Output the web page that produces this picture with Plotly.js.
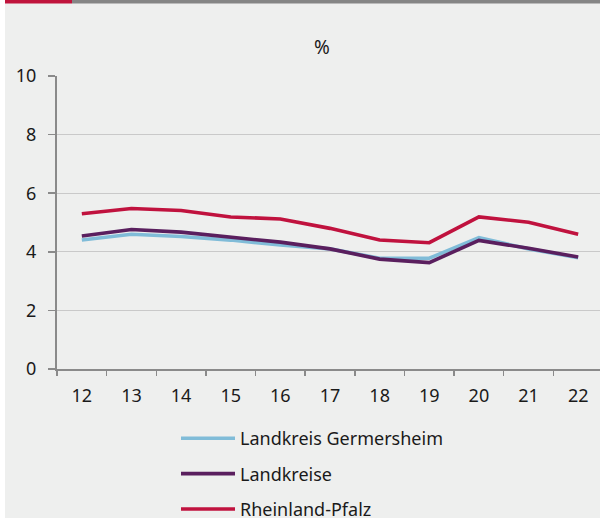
<!DOCTYPE html>
<html>
<head>
<meta charset="utf-8">
<script src="https://cdn.plot.ly/plotly-3.0.1.min.js"></script>
<style>
html,body{margin:0;padding:0;background:#ffffff;overflow:hidden;width:600px;height:518px;}
#chart{position:absolute;left:0;top:0;width:603px;height:518px;}
</style>
</head>
<body>
<div id="chart"></div>
<script>
const years = ["12","13","14","15","16","17","18","19","20","21","22"];
const germersheim = [4.4, 4.6, 4.52, 4.4, 4.23, 4.1, 3.78, 3.78, 4.48, 4.1, 3.8];
const landkreise = [4.54, 4.76, 4.67, 4.5, 4.33, 4.1, 3.75, 3.63, 4.39, 4.12, 3.82];
const rlp = [5.3, 5.48, 5.41, 5.19, 5.12, 4.8, 4.4, 4.31, 5.19, 5.01, 4.6];
const seriesNames = ["Landkreis Germersheim", "Landkreise", "Rheinland-Pfalz"];
const yTicks = [0, 2, 4, 6, 8, 10];

const colors = ["#80bcd8", "#5a1f5e", "#c0123e"];
const W = 603, H = 518;
const L = 57, R = 0, T = 76, B = 149;
const pw = W - L - R, ph = H - T - B;
const px = x => (x - L) / pw;
const py = y => (H - B - y) / ph;

const traces = [germersheim, landkreise, rlp].map((vals, i) => ({
  type: "scatter",
  mode: "lines",
  x: years,
  y: vals,
  name: seriesNames[i],
  legendgroup: "g" + i,
  line: {color: colors[i], width: 3.6},
  hoverinfo: "skip"
}));

const layout = {
  width: W,
  height: H,
  margin: {l: L, r: R, t: T, b: B, pad: 0, autoexpand: false},
  paper_bgcolor: "#eeefee",
  plot_bgcolor: "#eeefee",
  font: {family: "Noto Sans, Open Sans, sans-serif", size: 18, color: "#1a1a1a"},
  showlegend: true,
  title: {
    text: "%",
    xref: "container", yref: "container",
    x: 322 / W, xanchor: "center",
    y: 1 - 47 / H, yanchor: "middle",
    font: {size: 19, color: "#1a1a1a"}
  },
  xaxis: {
    type: "category",
    tickson: "boundaries",
    ticks: "outside",
    ticklen: 5,
    tickwidth: 1.5,
    tickcolor: "#8a8a8a",
    showline: true,
    linecolor: "#8a8a8a",
    linewidth: 2,
    showgrid: false,
    zeroline: false,
    range: [-0.5, 10.5],
    fixedrange: true,
    automargin: false,
    ticklabelstandoff: 9
  },
  yaxis: {
    range: [0, 10],
    tickvals: yTicks,
    ticktext: yTicks.map(String),
    ticks: "outside",
    ticklen: 7,
    tickwidth: 1.5,
    tickcolor: "#8a8a8a",
    showline: true,
    linecolor: "#8a8a8a",
    linewidth: 2,
    showgrid: true,
    gridcolor: "#c9c9c9",
    gridwidth: 1,
    zeroline: false,
    fixedrange: true,
    automargin: false,
    ticklabelstandoff: 8
  },
  legend: {
    orientation: "v",
    traceorder: "grouped",
    tracegroupgap: 9,
    x: px(176), xanchor: "left",
    y: py(420), yanchor: "top",
    bgcolor: "rgba(0,0,0,0)",
    itemwidth: 54,
    font: {size: 18, color: "#1a1a1a"}
  },
  shapes: [
    {type: "rect", xref: "paper", yref: "paper", x0: px(-5), x1: px(5), y0: py(-5), y1: py(H + 5),
     fillcolor: "#ffffff", line: {width: 0}, layer: "above"},
    {type: "rect", xref: "paper", yref: "paper", x0: px(5), x1: px(72), y0: py(-5), y1: py(3.5),
     fillcolor: "#c0143c", line: {width: 0}, layer: "above"},
    {type: "rect", xref: "paper", yref: "paper", x0: px(72), x1: px(W + 5), y0: py(-5), y1: py(3.5),
     fillcolor: "#858585", line: {width: 0}, layer: "above"}
  ]
};

Plotly.newPlot("chart", traces, layout, {displayModeBar: false, staticPlot: true});
</script>
</body>
</html>
